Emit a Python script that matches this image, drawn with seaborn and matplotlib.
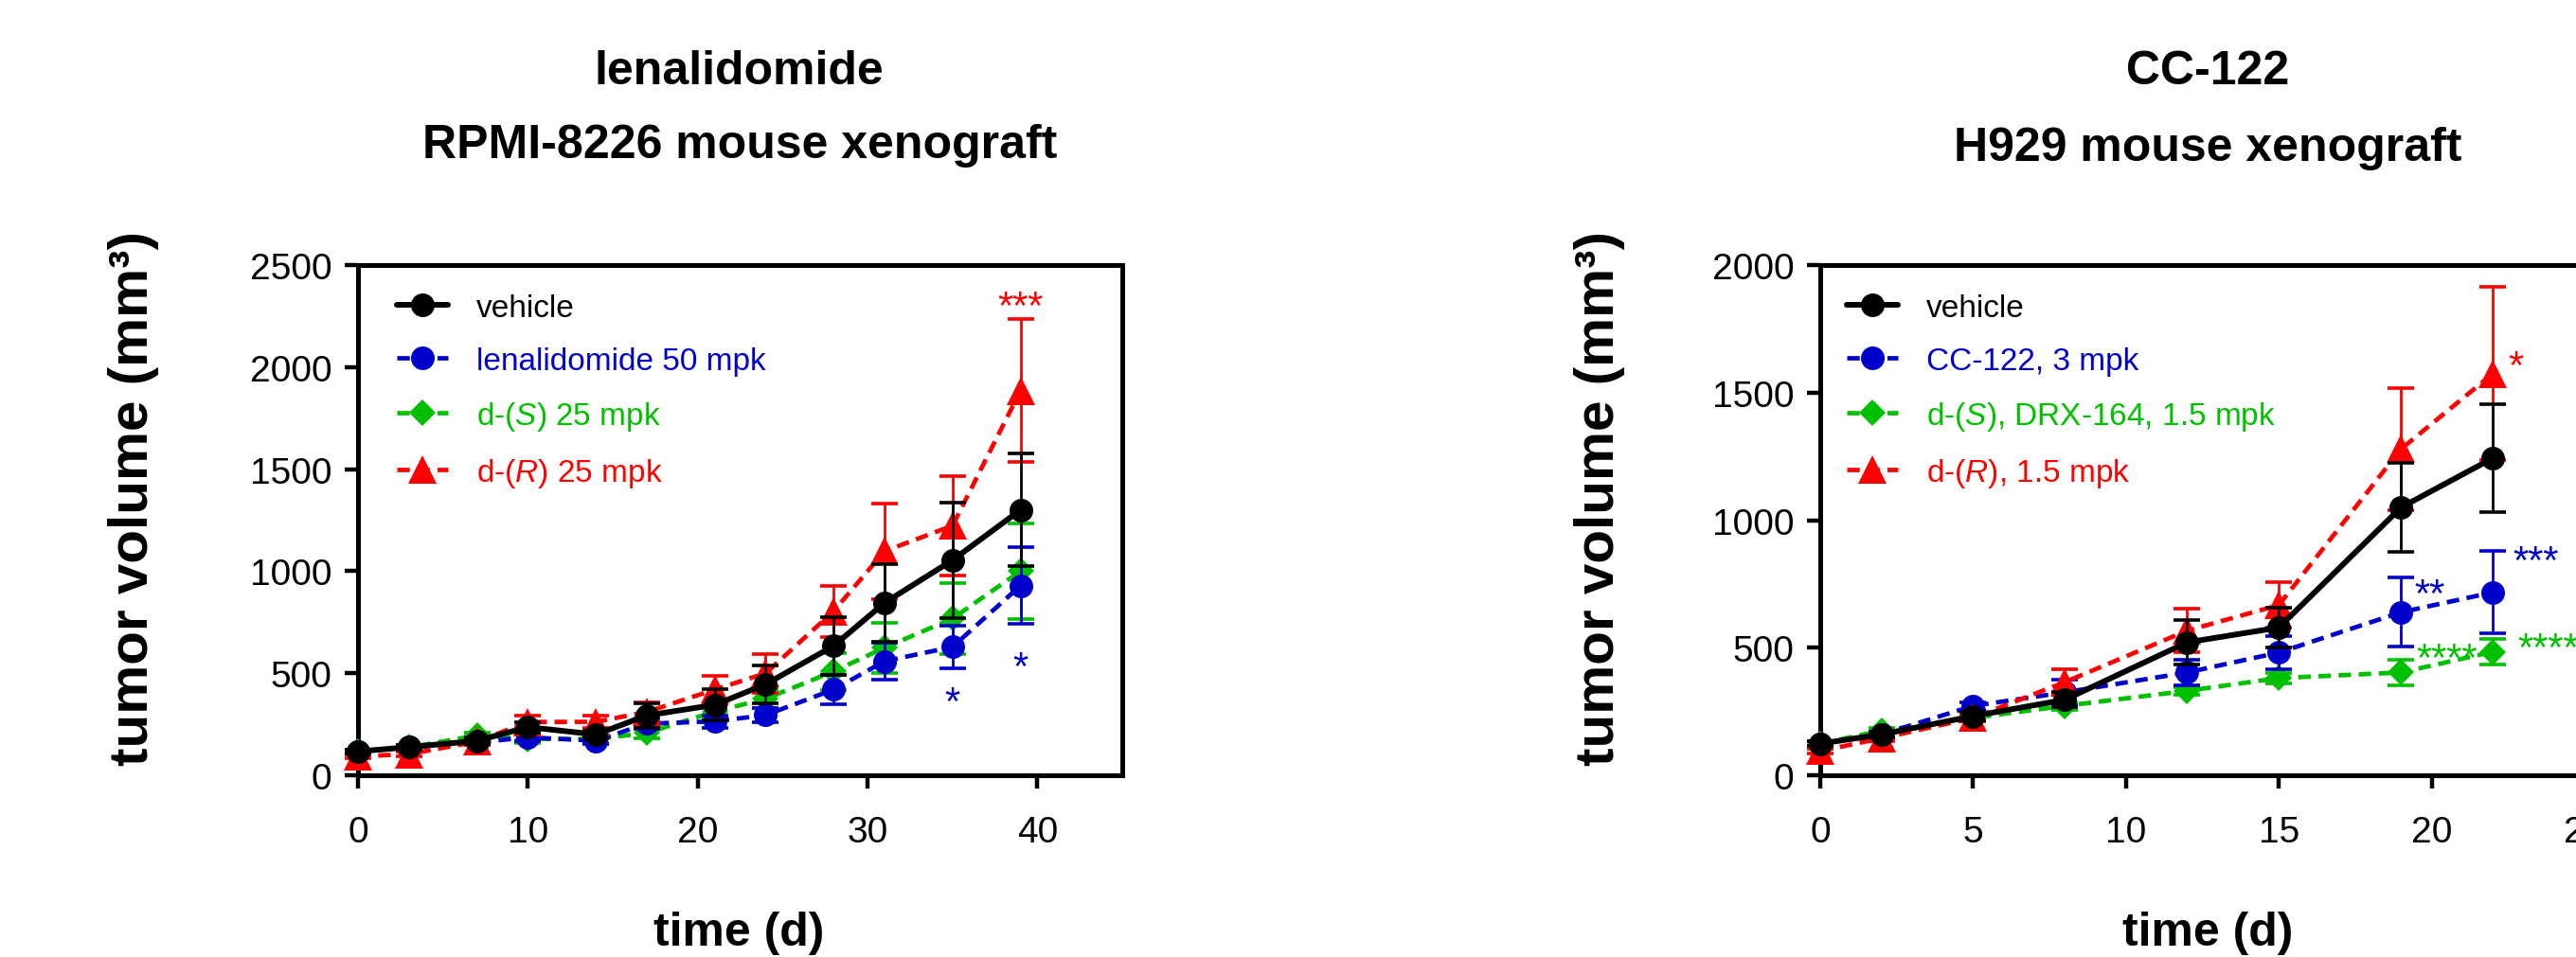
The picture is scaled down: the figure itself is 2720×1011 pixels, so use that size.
import numpy as np
import pandas as pd
import matplotlib.pyplot as plt
import seaborn as sns

sns.set_style("ticks")
plt.rcParams['font.family'] = ['Liberation Sans', 'DejaVu Sans']
plt.rcParams['mathtext.fontset'] = 'custom'
plt.rcParams['mathtext.rm'] = 'Liberation Sans'
plt.rcParams['mathtext.it'] = 'Liberation Sans:italic'
plt.rcParams['mathtext.bf'] = 'Liberation Sans:bold'
plt.rcParams['text.color'] = 'black'
plt.rcParams['axes.labelcolor'] = 'black'
plt.rcParams['xtick.color'] = 'black'
plt.rcParams['ytick.color'] = 'black'

# ---- lenalidomide, RPMI-8226 xenograft ----
len_days = [0, 3, 7, 10, 14, 17, 21, 24, 28, 31, 35, 39]
len_vehicle = [117, 138, 169, 236, 200, 293, 345, 446, 634, 845, 1054, 1300]
len_vehicle_err = [10, 12, 15, 25, 20, 59, 75, 93, 140, 190, 284, 275]
len_lena = [116, 137, 161, 186, 169, 253, 264, 295, 420, 559, 629, 929]
len_lena_err = [8, 10, 12, 20, 18, 25, 30, 35, 72, 90, 106, 187]
len_s = [116, 137, 195, 178, 178, 207, 312, 375, 509, 625, 768, 1000]
len_s_err = [8, 10, 15, 20, 18, 25, 35, 45, 90, 123, 175, 235]
len_r = [92, 104, 165, 261, 262, 310, 420, 500, 804, 1098, 1223, 1884]
len_r_err = [10, 10, 15, 30, 30, 45, 66, 95, 125, 235, 245, 350]
len_labels = ["vehicle", "lenalidomide 50 mpk",
              r"d-($\it{S}$) 25 mpk", r"d-($\it{R}$) 25 mpk"]
len_xticks = [0, 10, 20, 30, 40]
len_yticks = [0, 500, 1000, 1500, 2000, 2500]
len_stars = ["***", "*", "*"]
len_star_x = [39, 35, 39]
len_star_y = [2349, 411, 580]
len_star_group = [3, 1, 1]

# ---- CC-122, H929 xenograft ----
cc_days = [0, 2, 5, 8, 12, 15, 19, 22]
cc_vehicle = [124, 160, 232, 296, 521, 579, 1050, 1243]
cc_vehicle_err = [10, 12, 15, 30, 88, 79, 173, 212]
cc_cc122 = [124, 160, 272, 325, 403, 481, 639, 717]
cc_cc122_err = [8, 10, 15, 50, 50, 65, 136, 162]
cc_s = [124, 175, 225, 272, 331, 381, 403, 484]
cc_s_err = [8, 10, 12, 15, 15, 20, 50, 50]
cc_r = [95, 145, 225, 365, 567, 667, 1279, 1574]
cc_r_err = [10, 10, 15, 50, 86, 89, 240, 340]
cc_labels = ["vehicle", "CC-122, 3 mpk",
             r"d-($\it{S}$), DRX-164, 1.5 mpk", r"d-($\it{R}$), 1.5 mpk"]
cc_xticks = [0, 5, 10, 15, 20, 25]
cc_yticks = [0, 500, 1000, 1500, 2000]
cc_stars = ["*", "**", "***", "****", "****"]
cc_star_x = [22.75, 19.95, 23.4, 20.5, 23.8]
cc_star_y = [1646, 753, 881, 499, 539]
cc_star_group = [3, 1, 1, 2, 2]

# styles (vehicle, compound, d-(S), d-(R))
colors = ["#000000", "#0000CC", "#00C000", "#FF0000"]
markers = ["o", "o", "D", "^"]
msizes = [18, 18, 14, 21]
lstyles = ["-", (0, (2.8, 1.7)), (0, (2.8, 1.7)), (0, (2.8, 1.7))]
lwidths = [4.3, 3.4, 3.4, 3.4]
zorders = [10, 8, 7, 9]

fig = plt.figure(figsize=(27.2, 10.12), dpi=100)
ax1 = fig.add_axes([0.139, 0.1897, 0.2967, 0.5326])
ax2 = fig.add_axes([0.7066, 0.1897, 0.2967, 0.5326])


def draw_panel(ax, days, means, errs, labels, xlim, ylim, xticks, yticks,
               stars, star_x, star_y, star_group, legend_x):
    for i in range(4):
        ax.errorbar(days, means[i], yerr=errs[i], fmt='none', ecolor=colors[i],
                    elinewidth=2, capsize=10, capthick=2.6,
                    zorder=zorders[i] - 0.5, clip_on=False)
        sns.lineplot(x=days, y=means[i], ax=ax, color=colors[i],
                     marker=markers[i], markersize=msizes[i],
                     markeredgewidth=0, linewidth=lwidths[i],
                     linestyle=lstyles[i], label=labels[i],
                     zorder=zorders[i], clip_on=False)
    for s, x, y, g in zip(stars, star_x, star_y, star_group):
        ax.annotate(s, (x, y), xytext=(0, -9), textcoords='offset points',
                    ha='center', va='center', color=colors[g], fontsize=30,
                    annotation_clip=False)
    ax.set_xlim(*xlim)
    ax.set_ylim(*ylim)
    ax.set_xticks(xticks)
    ax.set_xticklabels([str(t) for t in xticks])
    ax.set_yticks(yticks)
    ax.set_yticklabels([str(t) for t in yticks])
    ax.set_xlabel("")
    ax.set_ylabel("")
    for sp in ax.spines.values():
        sp.set_linewidth(3.6)
        sp.set_color("black")
    ax.tick_params(axis='both', direction='out', length=10, width=3.2,
                   labelsize=28, colors='black')
    ax.tick_params(axis='x', pad=20)
    ax.tick_params(axis='y', pad=10)
    ax.legend(loc='upper left', bbox_to_anchor=(legend_x, 0.945),
              frameon=False, fontsize=24, handlelength=1.6,
              handletextpad=0.9, labelspacing=0.75, borderaxespad=0,
              borderpad=0, labelcolor='linecolor')


draw_panel(ax1, len_days,
           [len_vehicle, len_lena, len_s, len_r],
           [len_vehicle_err, len_lena_err, len_s_err, len_r_err],
           len_labels, (0, 45), (0, 2500), len_xticks, len_yticks,
           len_stars, len_star_x, len_star_y, len_star_group, 0.051)
draw_panel(ax2, cc_days,
           [cc_vehicle, cc_cc122, cc_s, cc_r],
           [cc_vehicle_err, cc_cc122_err, cc_s_err, cc_r_err],
           cc_labels, (0, 25), (0, 2000), cc_xticks, cc_yticks,
           cc_stars, cc_star_x, cc_star_y, cc_star_group, 0.035)

# titles and axis labels placed like the Prism layout
fig.text(0.287, 0.912, "lenalidomide", ha='center', va='baseline',
         fontsize=36, fontweight='bold')
fig.text(0.287, 0.835, "RPMI-8226 mouse xenograft", ha='center',
         va='baseline', fontsize=36, fontweight='bold')
fig.text(0.857, 0.912, "CC-122", ha='center', va='baseline',
         fontsize=36, fontweight='bold')
fig.text(0.857, 0.832, "H929 mouse xenograft", ha='center',
         va='baseline', fontsize=36, fontweight='bold')

for x in [0.052, 0.621]:
    fig.text(x, 0.48, "tumor volume (mm³)", rotation=90, ha='center',
             va='center', fontsize=42, fontweight='bold')
for x in [0.287, 0.857]:
    fig.text(x, 0.013, "time (d)", ha='center', va='baseline',
             fontsize=36, fontweight='bold')

plt.savefig("out.png", dpi=100)
